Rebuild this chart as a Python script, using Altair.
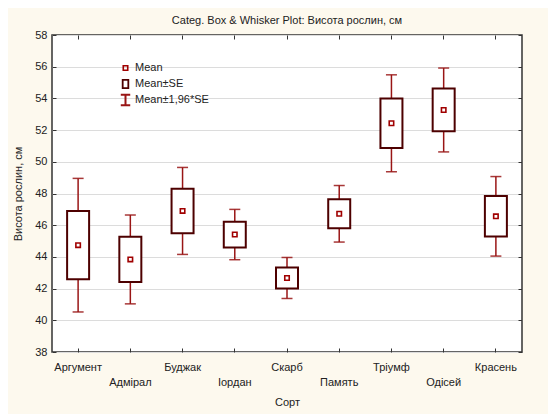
import json
import altair as alt
import pandas as pd

cats = ["Аргумент", "Адмірал", "Буджак", "Іордан", "Скарб", "Память", "Тріумф", "Одісей", "Красень"]
means = [44.74, 43.84, 46.90, 45.41, 42.67, 46.72, 52.43, 53.27, 46.56]
se = [2.15, 1.43, 1.40, 0.81, 0.66, 0.91, 1.56, 1.35, 1.28]
y_ticks = [38, 40, 42, 44, 46, 48, 50, 52, 54, 56, 58]
legend_items = ["Mean", "Mean±SE", "Mean±1,96*SE"]

df = pd.DataFrame({"cat": cats, "mean": means, "se": se})

FONT = "Liberation Sans"
WHISK = "#991515"
BOXC = "#4d0000"
MEANC = "#a00000"
TXT = "#222222"

base = alt.Chart(df).transform_calculate(
    lo1="datum.mean - datum.se",
    hi1="datum.mean + datum.se",
    lo2="datum.mean - 1.96 * datum.se",
    hi2="datum.mean + 1.96 * datum.se",
)

yscale = alt.Scale(domain=[38, 58], nice=False, zero=False)
xscale = alt.Scale(domain=cats, paddingInner=0, paddingOuter=0)

label_expr = (
    "indexof(" + json.dumps(cats, ensure_ascii=False) + ", datum.value) % 2 == 1 ? ['', datum.label] : datum.label"
)

x_bottom = alt.Axis(
    orient="bottom", offset=-4, tickSize=4, domain=False, labelAngle=0,
    labelPadding=9, labelExpr=label_expr, labelLineHeight=15,
    title="Сорт", titlePadding=9, tickColor="#333", labelColor=TXT,
    labelFont=FONT, labelFontSize=11, titleFont=FONT, titleFontSize=11,
    titleFontWeight="normal", titleColor=TXT, grid=False,
)
y_left = alt.Axis(
    orient="left", values=y_ticks, offset=-4, tickSize=4, domain=False,
    labelPadding=5, grid=True, gridColor="#dcdcdc", gridWidth=1.2,
    title="Висота рослин, см", titlePadding=11, tickColor="#333", labelColor=TXT,
    labelFont=FONT, labelFontSize=11, titleFont=FONT, titleFontSize=11,
    titleFontWeight="normal", titleColor=TXT,
)
x_top = alt.Axis(orient="top", offset=-4, tickSize=4, domain=False, labels=False,
                 title=None, tickColor="#333", grid=False)
y_right = alt.Axis(orient="right", values=y_ticks, offset=-4, tickSize=4, domain=False,
                   labels=False, title=None, tickColor="#333", grid=False)

whisk = base.mark_rule(color=WHISK, strokeWidth=1.5).encode(
    x=alt.X("cat:N", sort=cats, scale=xscale, axis=x_bottom),
    y=alt.Y("lo2:Q", scale=yscale, axis=y_left),
    y2="hi2:Q",
)
cap_lo = base.mark_tick(color=WHISK, size=11, thickness=1.5, orient="horizontal", opacity=0.85).encode(
    x=alt.X("cat:N", sort=cats, scale=xscale, axis=x_top),
    y=alt.Y("lo2:Q", scale=yscale, axis=y_right),
)
cap_hi = base.mark_tick(color=WHISK, size=11, thickness=1.5, orient="horizontal", opacity=0.85).encode(
    x=alt.X("cat:N", sort=cats, scale=xscale, axis=None),
    y=alt.Y("hi2:Q", scale=yscale, axis=None),
)
box = base.mark_bar(width=22, fill="white", stroke=BOXC, strokeWidth=2).encode(
    x=alt.X("cat:N", sort=cats, scale=xscale, axis=None),
    y=alt.Y("lo1:Q", scale=yscale, axis=None),
    y2="hi1:Q",
)
mean_pt = base.mark_point(shape="square", size=20, filled=False, stroke=MEANC, strokeWidth=1.6, opacity=1).encode(
    x=alt.X("cat:N", sort=cats, scale=xscale, axis=None),
    y=alt.Y("mean:Q", scale=yscale, axis=None),
)

leg = alt.Legend(
    title=None, orient="none", legendX=67, legendY=25, clipHeight=16, rowPadding=0,
    labelFont=FONT, labelFontSize=11, labelColor=TXT, labelOffset=3, padding=0,
)
leg_df = pd.DataFrame({"item": legend_items})
legend_layer = alt.Chart(leg_df).mark_point(filled=False, clip=True, opacity=1).encode(
    x=alt.value(-200),
    y=alt.value(-200),
    shape=alt.Shape("item:N", scale=alt.Scale(
        domain=legend_items,
        range=["square", "M-0.7,-1H0.7V1H-0.7Z", "M-0.9,-1H0.9M0,-1V1M-0.9,1H0.9"]), legend=leg),
    color=alt.Color("item:N", scale=alt.Scale(domain=legend_items, range=[MEANC, BOXC, WHISK]), legend=leg),
    size=alt.Size("item:N", scale=alt.Scale(domain=legend_items, range=[20, 110, 110]), legend=leg),
    strokeWidth=alt.StrokeWidth("item:N", scale=alt.Scale(domain=legend_items, range=[1.6, 2, 1.5]), legend=leg),
)

chart = alt.layer(whisk, cap_lo, cap_hi, box, mean_pt, legend_layer).resolve_axis(
    x="independent", y="independent"
).resolve_scale(x="shared", y="shared").properties(
    width=470, height=317,
    autosize=alt.AutoSizeParams(type="none"),
    padding={"left": 44, "top": 27, "right": 26, "bottom": 62},
    background="#fdf9ee",
    title=alt.TitleParams(
        "Categ. Box & Whisker Plot: Висота рослин, см",
        font=FONT, fontSize=11, fontWeight="normal", color=TXT,
        anchor="middle", offset=3,
    ),
).configure_view(fill="white", stroke="#333", strokeWidth=1.5)

chart.save("out.html", embed_options={"renderer": "svg", "actions": False})
